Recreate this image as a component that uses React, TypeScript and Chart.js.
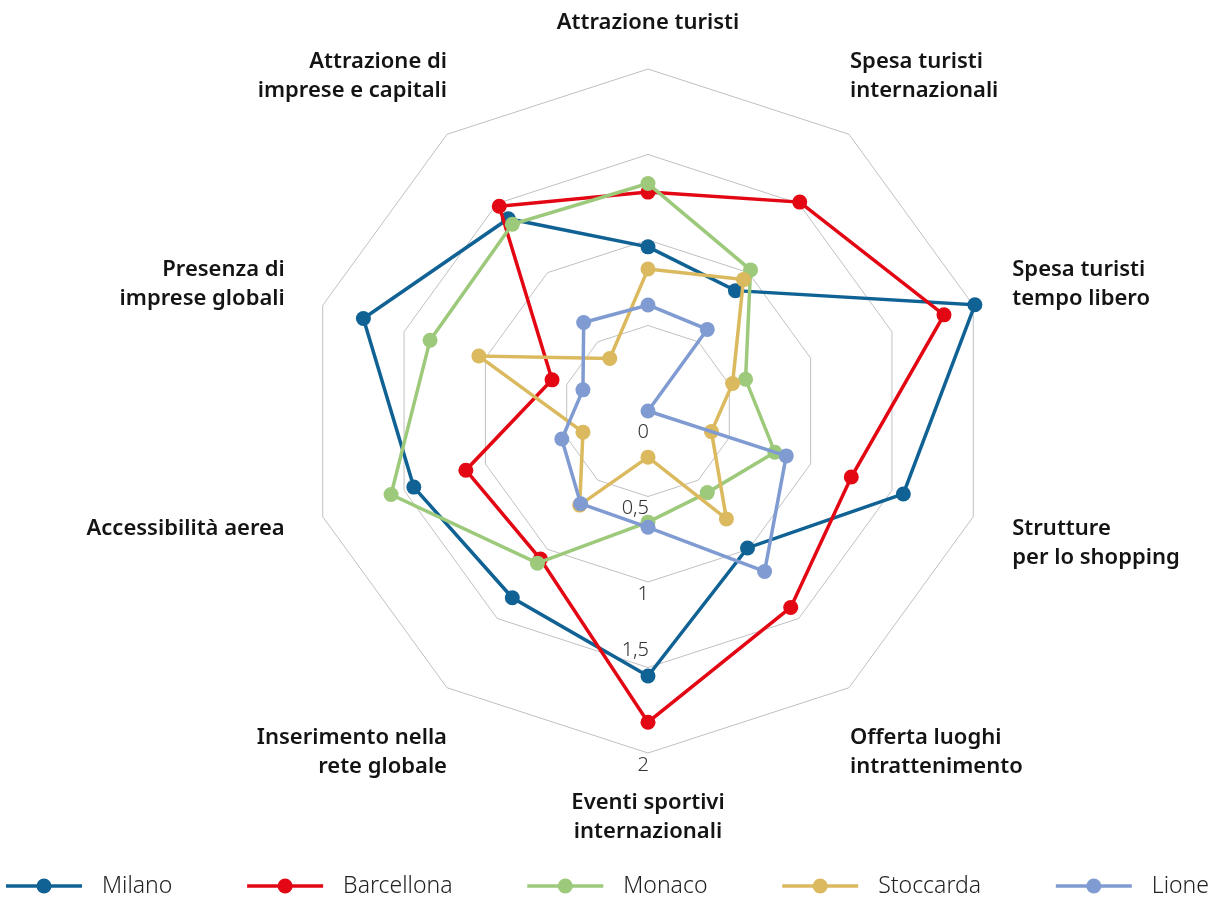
import React, { useEffect, useRef } from "react";
import { Chart, registerables } from "chart.js";

Chart.register(...registerables);

// Axis titles, clockwise from the top
const axisLabels: string[][] = [
  ["Attrazione turisti"],
  ["Spesa turisti", "internazionali"],
  ["Spesa turisti", "tempo libero"],
  ["Strutture", "per lo shopping"],
  ["Offerta luoghi", "intrattenimento"],
  ["Eventi sportivi", "internazionali"],
  ["Inserimento nella", "rete globale"],
  ["Accessibilità aerea"],
  ["Presenza di", "imprese globali"],
  ["Attrazione di", "imprese e capitali"],
];

const milano = [0.96, 0.87, 2.01, 1.57, 0.99, 1.55, 1.35, 1.44, 1.75, 1.39];
const barcellona = [1.28, 1.51, 1.82, 1.25, 1.42, 1.82, 1.07, 1.12, 0.59, 1.48];
const monaco = [1.33, 1.02, 0.6, 0.78, 0.59, 0.65, 1.1, 1.58, 1.34, 1.35];
const stoccarda = [0.83, 0.95, 0.52, 0.39, 0.78, 0.27, 0.68, 0.4, 1.04, 0.38];
const lione = [0.62, 0.59, 0, 0.85, 1.16, 0.68, 0.67, 0.53, 0.4, 0.64];

const cityNames = ["Milano", "Barcellona", "Monaco", "Stoccarda", "Lione"];
const cityValues = [milano, barcellona, monaco, stoccarda, lione];
const cityColors = ["#0f6293", "#e30613", "#9dc97b", "#dbb95e", "#7f9bd1"];

const tickValues = [0, 0.5, 1, 1.5, 2];
const tickLabels = ["0", "0,5", "1", "1,5", "2"];

const LABEL_FONT = "600 22px 'Noto Sans', sans-serif";
const TICK_FONT = "300 20px 'Noto Sans', sans-serif";
const LEGEND_FONT = "300 23px 'Noto Sans', sans-serif";

// Value labels along the downward spoke; a label that would sit on a
// marker is pushed clear of it (inwards, or outwards at the centre).
const tickLabelPlugin = {
  id: "tickLabelPlugin",
  beforeDatasetsDraw(chart: any) {
    const scale = chart.scales.r;
    const ctx = chart.ctx;
    const bottomIndex = axisLabels.length / 2;
    const markers: { x: number; y: number }[] = [];
    chart.data.datasets.forEach((_: any, di: number) => {
      chart.getDatasetMeta(di).data.forEach((pt: any) => markers.push({ x: pt.x, y: pt.y }));
    });
    ctx.save();
    ctx.font = TICK_FONT;
    ctx.fillStyle = "#333333";
    ctx.textAlign = "right";
    ctx.textBaseline = "middle";
    tickValues.forEach((v, k) => {
      const d = scale.getDistanceFromCenterForValue(v);
      const p = scale.getPointPosition(bottomIndex, d);
      const w = ctx.measureText(tickLabels[k]).width;
      let y = p.y + 12;
      const tol = v === 0 ? 14 : 9;
      const hit = markers.find(
        (m) => Math.abs(m.y - y) < tol && m.x > p.x - w - 8 && m.x < p.x + 9
      );
      if (hit) y = v > 0 ? hit.y - 26 : hit.y + 21;
      ctx.fillText(tickLabels[k], p.x + 1, y);
    });
    ctx.restore();
  },
};

// Multi-line axis titles placed around the outer ring
const axisTitlePlugin = {
  id: "axisTitlePlugin",
  afterDraw(chart: any) {
    const scale = chart.scales.r;
    const ctx = chart.ctx;
    const R = scale.drawingArea;
    const lh = 29;
    ctx.save();
    ctx.font = LABEL_FONT;
    ctx.fillStyle = "#141414";
    ctx.textBaseline = "middle";
    axisLabels.forEach((lines, i) => {
      const a = scale.getIndexAngle(i);
      const p = scale.getPointPosition(i, R);
      const s = Math.sin(a);
      const c = Math.cos(a);
      const n = lines.length;
      let x = p.x;
      let firstY: number;
      if (Math.abs(s) < 0.05) {
        ctx.textAlign = "center";
        firstY = c > 0 ? p.y - 46 - (n - 1) * lh : p.y + 50;
      } else if (Math.abs(s) > 0.9) {
        ctx.textAlign = s > 0 ? "left" : "right";
        x = p.x + (s > 0 ? 39 : -38);
        firstY = c > 0 ? p.y - 7 - (n - 1) * lh : p.y + 12;
      } else {
        ctx.textAlign = s > 0 ? "left" : "right";
        x = p.x + (s > 0 ? 1 : 0);
        firstY = c > 0 ? p.y - 44 - (n - 1) * lh : p.y + 50;
      }
      lines.forEach((t, k) => ctx.fillText(t, x, firstY + k * lh));
    });
    ctx.restore();
  },
};

// Legend row spread across the full width
const legendRowPlugin = {
  id: "legendRowPlugin",
  afterDraw(chart: any) {
    const ctx = chart.ctx;
    const sample = 76;
    const textGap = 20;
    const left = 6;
    const right = 1209;
    const y = 886;
    ctx.save();
    ctx.font = LEGEND_FONT;
    const widths = cityNames.map((n) => sample + textGap + ctx.measureText(n).width);
    const total = widths.reduce((a, b) => a + b, 0);
    const gap = (right - left - total) / (cityNames.length - 1);
    let x = left;
    cityNames.forEach((name, i) => {
      ctx.strokeStyle = cityColors[i];
      ctx.lineWidth = 3.5;
      ctx.beginPath();
      ctx.moveTo(x, y);
      ctx.lineTo(x + sample, y);
      ctx.stroke();
      ctx.fillStyle = cityColors[i];
      ctx.beginPath();
      ctx.arc(x + sample / 2, y, 7.5, 0, Math.PI * 2);
      ctx.fill();
      ctx.fillStyle = "#222222";
      ctx.textAlign = "left";
      ctx.textBaseline = "middle";
      ctx.fillText(name, x + sample + textGap, y);
      x += widths[i] + gap;
    });
    ctx.restore();
  },
};

export default function App() {
  const canvasRef = useRef<HTMLCanvasElement | null>(null);

  useEffect(() => {
    if (!canvasRef.current) return;
    const chart = new Chart(canvasRef.current, {
      type: "radar",
      data: {
        labels: axisLabels.map((l) => l.join(" ")),
        datasets: cityNames.map((name, i) => ({
          label: name,
          data: cityValues[i],
          borderColor: cityColors[i],
          backgroundColor: cityColors[i],
          borderWidth: 3.5,
          fill: false,
          tension: 0,
          pointRadius: 7.5,
          pointBorderWidth: 0,
          pointBackgroundColor: cityColors[i],
          order: cityNames.length - i,
        })),
      },
      options: {
        responsive: false,
        animation: false,
        layout: { padding: { top: 69, bottom: 147, left: 200, right: 119 } },
        scales: {
          r: {
            min: 0,
            max: 2,
            ticks: { stepSize: 0.5, display: false },
            grid: { color: "#c0c0c0", lineWidth: 1 },
            angleLines: { display: false },
            pointLabels: { display: false },
          },
        },
        plugins: {
          legend: { display: false },
          tooltip: { enabled: false },
        },
      },
      plugins: [tickLabelPlugin, axisTitlePlugin, legendRowPlugin],
    });
    return () => chart.destroy();
  }, []);

  return (
    <div style={{ position: "fixed", left: 0, top: 0, width: 1215, height: 900, background: "#ffffff" }}>
      <canvas ref={canvasRef} width={1215} height={900} style={{ display: "block" }} />
    </div>
  );
}
